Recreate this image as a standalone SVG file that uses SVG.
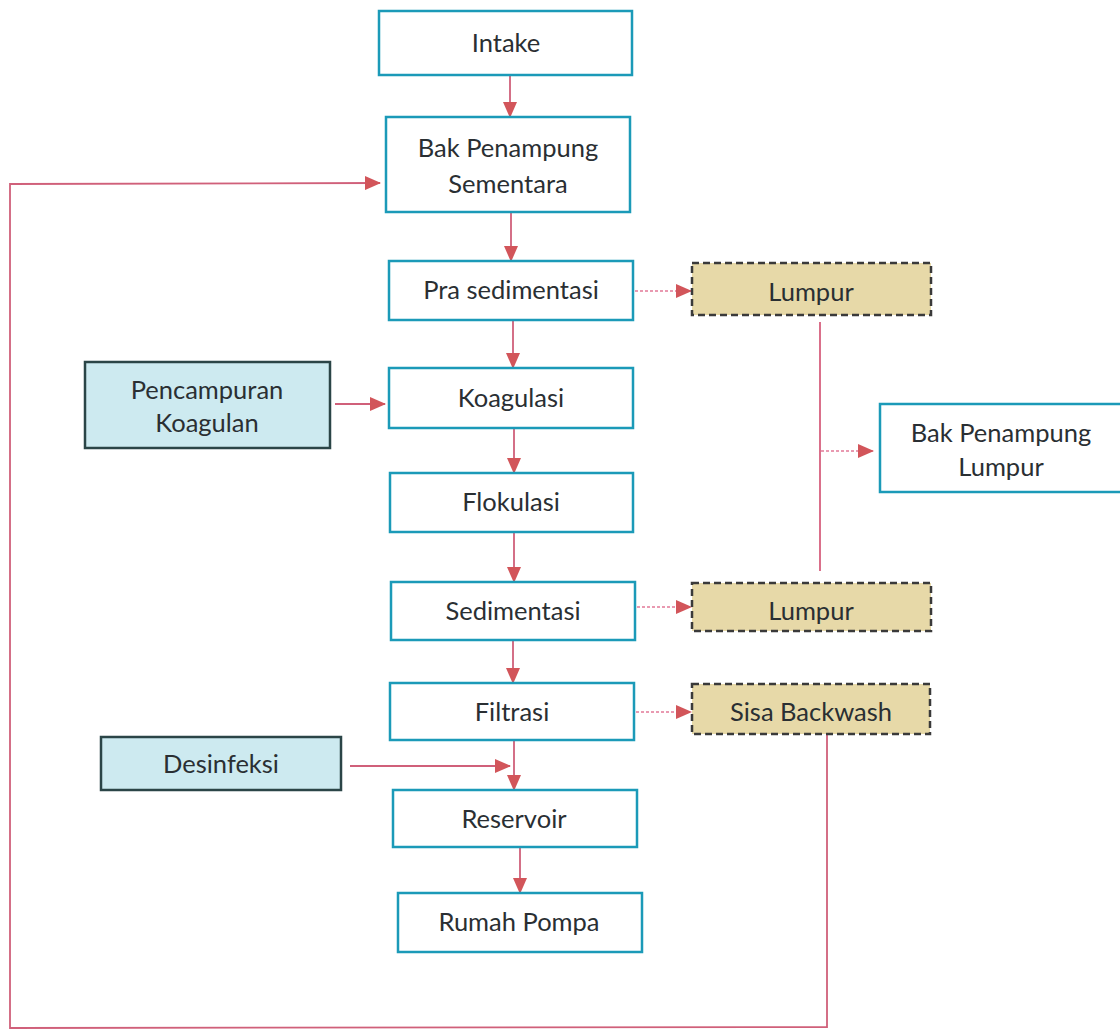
<svg xmlns="http://www.w3.org/2000/svg" width="1120" height="1031" viewBox="0 0 1120 1031">
<defs>
<marker id="ahs" markerWidth="16" markerHeight="14" refX="15" refY="7" orient="auto" markerUnits="userSpaceOnUse" viewBox="0 0 16 14">
<path d="M0,0 L16,7 L0,14 z" fill="#d2555a"/>
</marker>
<style>
.proc{fill:#ffffff;stroke:#1b9ab8;stroke-width:2.5}
.input{fill:#cdeaf0;stroke:#2b4547;stroke-width:2.5}
.waste{fill:#e7d9a8;stroke:#3a3a3a;stroke-width:2.5;stroke-dasharray:7 4}
.t{font-family:Lato,"Open Sans","Liberation Sans",sans-serif;font-size:25.5px;fill:#2a2f33;text-anchor:middle}
.flow{stroke:#d0607a;stroke-width:1.8;fill:none;marker-end:url(#ahs)}
.dot{stroke:#e27a98;stroke-width:1.5;fill:none;stroke-dasharray:3 2;marker-end:url(#ahs)}
.line{stroke:#d6607e;stroke-width:1.8;fill:none}
</style>
</defs>
<rect width="1120" height="1031" fill="#ffffff"/>
<g id="connectors">
<line class="flow" x1="510" y1="75" x2="510" y2="117"/>
<line class="flow" x1="511" y1="212" x2="511" y2="261"/>
<line class="flow" x1="513" y1="320" x2="513" y2="368"/>
<line class="flow" x1="514" y1="428" x2="514" y2="473"/>
<line class="flow" x1="514" y1="532" x2="514" y2="582"/>
<line class="flow" x1="513" y1="640" x2="513" y2="683"/>
<line class="flow" x1="514" y1="740" x2="514" y2="790"/>
<line class="flow" x1="520" y1="847" x2="520" y2="893"/>
<line class="flow" x1="335" y1="404" x2="385" y2="404"/>
<line class="flow" x1="350" y1="766" x2="510" y2="766"/>
<line class="dot" x1="635" y1="291" x2="691" y2="291"/>
<line class="dot" x1="637" y1="607" x2="691" y2="607"/>
<line class="dot" x1="636" y1="712" x2="691" y2="712"/>
<line class="line" x1="820" y1="322" x2="820" y2="571"/>
<line class="dot" x1="821" y1="451" x2="873" y2="451"/>
<polyline class="flow" points="827,735 827,1027 10,1028 10,184 380,183"/>
</g>
<g id="intake"><rect class="proc" x="379" y="11" width="253" height="64"/><text class="t" x="506" y="52">Intake</text></g>
<g id="bak-sementara"><rect class="proc" x="386" y="117" width="244" height="95"/><text class="t" x="508" y="157">Bak Penampung</text><text class="t" x="508" y="193">Sementara</text></g>
<g id="pra-sedimentasi"><rect class="proc" x="389" y="261" width="244" height="59"/><text class="t" x="511" y="299">Pra sedimentasi</text></g>
<g id="koagulasi"><rect class="proc" x="389" y="368" width="244" height="60"/><text class="t" x="511" y="407">Koagulasi</text></g>
<g id="flokulasi"><rect class="proc" x="390" y="473" width="243" height="59"/><text class="t" x="511" y="511">Flokulasi</text></g>
<g id="sedimentasi"><rect class="proc" x="391" y="582" width="244" height="58"/><text class="t" x="513" y="620">Sedimentasi</text></g>
<g id="filtrasi"><rect class="proc" x="390" y="683" width="244" height="57"/><text class="t" x="512" y="721">Filtrasi</text></g>
<g id="reservoir"><rect class="proc" x="393" y="790" width="244" height="57"/><text class="t" x="514" y="828">Reservoir</text></g>
<g id="rumah-pompa"><rect class="proc" x="398" y="893" width="244" height="59"/><text class="t" x="519" y="931">Rumah Pompa</text></g>
<g id="pencampuran-koagulan"><rect class="input" x="85" y="362" width="245" height="86"/><text class="t" x="207" y="399">Pencampuran</text><text class="t" x="207" y="432">Koagulan</text></g>
<g id="desinfeksi"><rect class="input" x="101" y="737" width="240" height="53"/><text class="t" x="221" y="773">Desinfeksi</text></g>
<g id="lumpur-1"><rect class="waste" x="692" y="263" width="239" height="52"/><text class="t" x="811" y="301">Lumpur</text></g>
<g id="bak-lumpur"><rect class="proc" x="880" y="404" width="250" height="88"/><text class="t" x="1001" y="442">Bak Penampung</text><text class="t" x="1001" y="476">Lumpur</text></g>
<g id="lumpur-2"><rect class="waste" x="692" y="583" width="239" height="48"/><text class="t" x="811" y="620">Lumpur</text></g>
<g id="sisa-backwash"><rect class="waste" x="692" y="684" width="238" height="50"/><text class="t" x="811" y="721">Sisa Backwash</text></g>
</svg>
